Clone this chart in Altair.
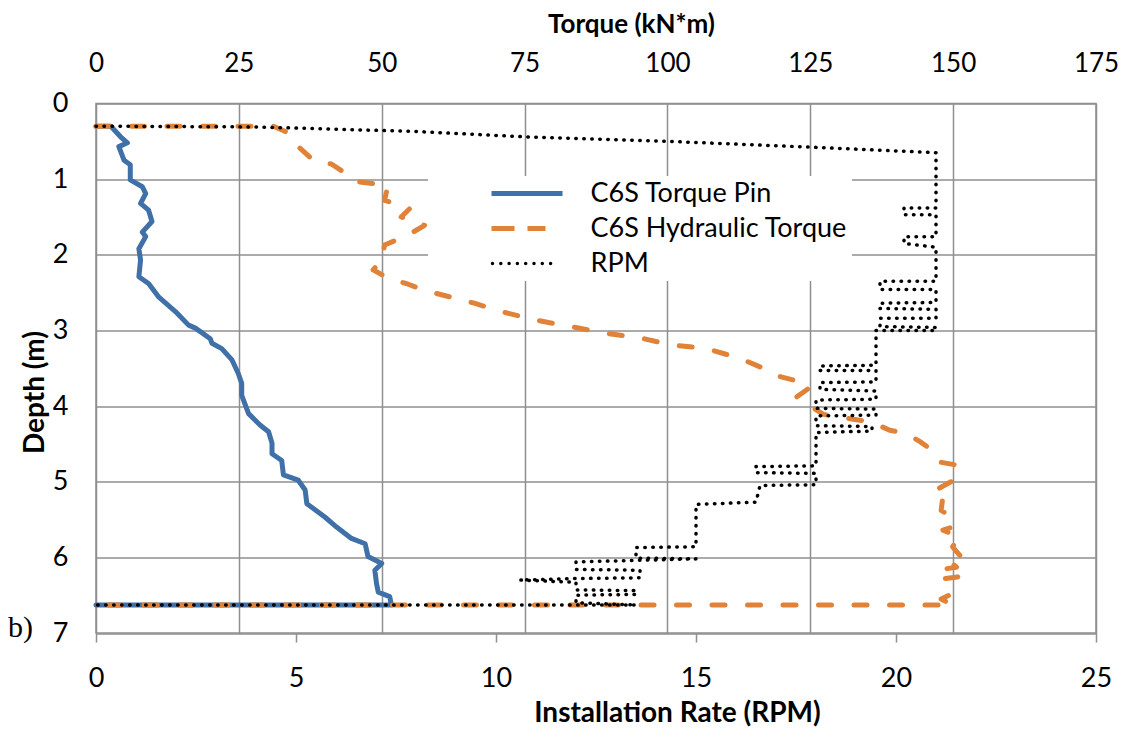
import altair as alt
import pandas as pd

# ---------------- data ----------------
series_names = ["C6S Torque Pin", "C6S Hydraulic Torque", "RPM"]
series_colors = ["#4070A8", "#E08238", "#000000"]

torque_ticks = [0, 25, 50, 75, 100, 125, 150, 175]
rpm_ticks = [0, 5, 10, 15, 20, 25]
depth_ticks = [0, 1, 2, 3, 4, 5, 6, 7]

pin_torque = [0, 2.6, 4.3, 5.5, 4.0, 4.9, 6.0, 6.0, 8.1, 8.7, 7.8, 9.2, 9.8, 8.1, 8.7,
              7.5, 7.8, 7.5, 9.2, 11.0, 13.9, 16.2, 17.4, 20.0, 20.3, 22.0, 23.8, 24.9,
              25.5, 25.5, 26.7, 28.7, 30.2, 30.8, 30.8, 32.5, 32.8, 35.4, 36.6, 36.9,
              40.1, 42.1, 44.7, 47.1, 47.6, 50.0, 48.8, 49.1, 49.4, 51.4, 51.7, 0]
pin_depth = [0.30, 0.30, 0.44, 0.52, 0.57, 0.75, 0.81, 1.01, 1.10, 1.19, 1.32, 1.41, 1.56,
             1.70, 1.76, 1.92, 2.07, 2.29, 2.38, 2.56, 2.75, 2.93, 2.97, 3.11, 3.17, 3.24,
             3.39, 3.57, 3.70, 3.86, 4.10, 4.25, 4.34, 4.49, 4.63, 4.72, 4.91, 4.98, 5.11,
             5.29, 5.47, 5.60, 5.75, 5.82, 5.99, 6.08, 6.17, 6.35, 6.46, 6.52, 6.63, 6.63]

hyd_torque = [0, 31.0, 33.7, 35.4, 38.3, 41.2, 43.6, 45.3, 51.1, 50.5, 54.9, 53.4, 57.5,
              54.6, 50.5, 50.0, 48.5, 51.7, 54.3, 57.5, 66.2, 70.9, 76.7, 83.1, 89.5, 95.9,
              100.5, 106.9, 112.7, 117.4, 119.7, 123.2, 125.0, 122.6, 124.4, 127.3, 133.1,
              135.7, 138.9, 141.8, 144.2, 145.9, 147.6, 150.6, 150.6, 146.5, 148.2, 147.9,
              149.9, 149.9, 148.2, 151.1, 149.9, 151.7, 149.5, 150.6, 148.0, 150.8, 148.5,
              149.9, 147.9, 149.9, 0]
hyd_depth = [0.30, 0.30, 0.39, 0.57, 0.77, 0.80, 0.92, 1.03, 1.08, 1.28, 1.39, 1.50, 1.61,
             1.74, 1.87, 2.07, 2.20, 2.33, 2.38, 2.47, 2.64, 2.75, 2.86, 2.95, 3.04, 3.11,
             3.19, 3.24, 3.37, 3.52, 3.61, 3.68, 3.75, 3.88, 3.97, 4.11, 4.18, 4.21, 4.32,
             4.36, 4.47, 4.56, 4.74, 4.78, 4.96, 5.13, 5.20, 5.38, 5.47, 5.60, 5.64, 5.73,
             5.86, 6.02, 6.06, 6.13, 6.16, 6.26, 6.28, 6.48, 6.55, 6.63, 6.63]

rpm_rate = [0, 4, 8, 10.7, 14.3, 18.0, 21.0,
            21.0, 20.2, 20.2, 21.0,
            21.0, 20.2, 20.2, 21.0,
            21.0, 19.6, 19.6, 21.0,
            21.0, 19.6, 19.6, 21.0,
            21.0, 19.6, 19.6, 21.0,
            21.0, 19.5,
            19.5, 18.1, 18.1, 19.5,
            19.5, 18.1, 18.1, 19.5,
            19.5, 18.0, 18.0, 19.5,
            19.5, 18.0, 18.0, 19.4, 19.4, 18.0,
            18.0, 16.5, 16.5, 18.0,
            18.0, 16.6, 16.5, 15.0,
            15.0, 13.5, 13.5, 15.0,
            12.0, 12.0, 13.6, 13.6, 12.0, 10.6, 12.0, 12.0, 13.5, 13.5, 12.0, 12.0, 13.5, 0]
rpm_depth = [0.30, 0.31, 0.37, 0.44, 0.50, 0.58, 0.65,
             1.38, 1.38, 1.47, 1.47,
             1.76, 1.76, 1.85, 1.90,
             2.35, 2.35, 2.46, 2.46,
             2.63, 2.64, 2.71, 2.72,
             2.84, 2.84, 2.95, 2.96,
             3.00, 3.00,
             3.46, 3.47, 3.53, 3.53,
             3.68, 3.69, 3.78, 3.80,
             3.91, 3.92, 4.03, 4.04,
             4.12, 4.13, 4.26, 4.27, 4.33, 4.35,
             4.79, 4.80, 4.88, 4.89,
             5.04, 5.05, 5.27, 5.30,
             5.86, 5.87, 6.01, 6.02,
             6.06, 6.16, 6.17, 6.27, 6.28, 6.30, 6.33, 6.43, 6.44, 6.49, 6.50, 6.60, 6.63, 6.63]

# ---------------- styling ----------------
GRID = "#8f8f8f"
FONT = "Lato"


def frame(xs, ds, name):
    return pd.DataFrame({"x": xs, "depth": ds, "series": name, "i": list(range(len(xs)))})


pin_df = frame(pin_torque, pin_depth, series_names[0])
hyd_df = frame(hyd_torque, hyd_depth, series_names[1])
rpm_df = frame(rpm_rate, rpm_depth, series_names[2])
legend_df = pd.DataFrame({"x": pd.Series([], dtype=float), "depth": pd.Series([], dtype=float),
                          "series": pd.Series([], dtype=str)})


# legend symbols: long line, two dashes, row of dots (path units = 10 px)
def rect(x0, x1, h):
    return f"M{x0},{-h}L{x1},{-h}L{x1},{h}L{x0},{h}Z"


def dot(cx, r):
    return f"M{cx - r},0a{r},{r} 0 1,0 {2 * r},0a{r},{r} 0 1,0 {-2 * r},0Z"


sym_solid = rect(-3.55, 3.55, 0.25)
sym_dash = rect(-3.55, -1.25, 0.25) + rect(0.05, 1.85, 0.25)
sym_dot = "".join(dot(round(-3.45 + 0.83 * k, 3), 0.17) for k in range(8))

color_scale = alt.Scale(domain=series_names, range=series_colors)
shape_scale = alt.Scale(domain=series_names, range=[sym_solid, sym_dash, sym_dot])

leg = alt.Legend(title="\u00a0", titleOrient="left", titleFontSize=8, titlePadding=60,
                 orient="none", legendX=332, legendY=72.5, padding=4,
                 fillColor="white", labelFont=FONT, labelFontSize=27, labelColor="black",
                 labelLimit=600, labelOffset=50, symbolOffset=21.5, symbolSize=400,
                 symbolStrokeWidth=0, rowPadding=7)

y_enc = alt.Y("depth:Q",
              scale=alt.Scale(domain=[0, 7], reverse=True, nice=False, zero=False),
              axis=alt.Axis(values=depth_ticks, title="Depth (m)", grid=True, gridColor=GRID,
                            gridWidth=1.5, domain=False, ticks=False, tickSize=0,
                            labelFlush=False, labelFont=FONT, labelFontSize=27,
                            labelColor="black", labelPadding=28, titleFont=FONT,
                            titleFontSize=28, titleFontWeight="bold", titleColor="black",
                            titleX=-61, titleY=288.5, titleBaseline="middle", titleAngle=270))

x_torque = alt.X("x:Q",
                 scale=alt.Scale(domain=[0, 175], nice=False, zero=False),
                 axis=alt.Axis(orient="top", values=torque_ticks, title="Torque (kN*m)",
                               grid=True, gridColor=GRID, gridWidth=1.5, domain=False,
                               ticks=False, tickSize=0, labelFlush=False, labelFont=FONT,
                               labelFontSize=26, labelColor="black", labelPadding=27,
                               titleFont=FONT, titleFontSize=26, titleFontWeight="bold",
                               titleColor="black", titleX=535, titleY=-79,
                               titleBaseline="middle"))

x_rpm = alt.X("x:Q",
              scale=alt.Scale(domain=[0, 25], nice=False, zero=False),
              axis=alt.Axis(orient="bottom", values=rpm_ticks, title="Installation Rate (RPM)",
                            grid=False, domain=False, ticks=True, tickSize=9, tickColor=GRID,
                            tickWidth=1.5, labelFlush=False, labelFont=FONT,
                            labelFontSize=27, labelColor="black", labelPadding=23,
                            titleFont=FONT, titleFontSize=28, titleFontWeight="bold",
                            titleColor="black", titleX=581, titleY=80.5,
                            titleBaseline="middle"))

pin_line = alt.Chart(pin_df).mark_line(
    color=series_colors[0], strokeWidth=5, strokeCap="round", strokeJoin="round"
).encode(x=x_torque, y=y_enc, order="i:Q")

hyd_line = alt.Chart(hyd_df).mark_line(
    color=series_colors[1], strokeWidth=5, strokeDash=[13, 22.5], strokeCap="round",
    strokeJoin="round"
).encode(x=x_torque, y=y_enc, order="i:Q")

legend_pts = alt.Chart(legend_df).mark_point(filled=True, opacity=1).encode(
    x=x_torque, y=y_enc,
    color=alt.Color("series:N", scale=color_scale, legend=leg),
    shape=alt.Shape("series:N", scale=shape_scale, legend=leg))

rpm_line = alt.Chart(rpm_df).mark_line(
    color=series_colors[2], strokeWidth=3.5, strokeDash=[0.5, 7.5], strokeCap="round",
    strokeJoin="round"
).encode(x=x_rpm, y=y_enc, order="i:Q")

b_text = alt.Chart(pd.DataFrame({"t": ["b)"]})).mark_text(
    font="Liberation Serif", fontSize=30, align="left", baseline="alphabetic", color="black"
).encode(x=alt.value(-88), y=alt.value(533.5), text="t:N")

chart = alt.layer(
    alt.layer(pin_line, hyd_line, legend_pts),
    rpm_line,
    b_text,
).resolve_scale(x="independent").properties(
    width=1000, height=529.5,
    padding={"left": 88, "top": 95.5, "right": 23, "bottom": 95},
    autosize=alt.AutoSizeParams(type="none"),
).configure_view(stroke=GRID, strokeWidth=1.5)

chart.save("out.html", embed_options={"renderer": "svg", "actions": False})
